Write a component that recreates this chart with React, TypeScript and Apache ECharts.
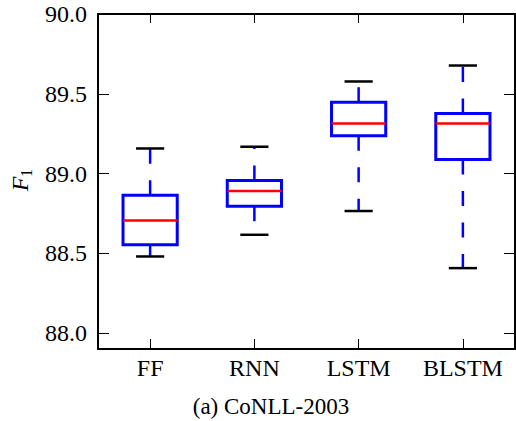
import React, { useEffect, useRef } from "react";
import * as echarts from "echarts";

const categories = ["FF", "RNN", "LSTM", "BLSTM"];
// [min, q1, median, q3, max]
const whiskerLow = [88.48, 88.616, 88.765, 88.407];
const q1Values = [88.553, 88.795, 89.237, 89.088];
const medianValues = [88.706, 88.891, 89.314, 89.314];
const q3Values = [88.864, 88.956, 89.447, 89.377];
const whiskerHigh = [89.157, 89.168, 89.577, 89.677];
const yTicks = [88.0, 88.5, 89.0, 89.5, 90.0];
const titleText = "(a) CoNLL-2003";

const FONT = "'Liberation Serif', 'Times New Roman', serif";

export default function App() {
  const ref = useRef<HTMLDivElement>(null);
  useEffect(() => {
    if (!ref.current) return;
    const chart = echarts.init(ref.current, undefined, { renderer: "svg" });
    const data = categories.map((_, i) => [
      i,
      whiskerLow[i],
      q1Values[i],
      medianValues[i],
      q3Values[i],
      whiskerHigh[i],
    ]);
    const yMin = 87.9;
    const yMax = 90.0;
    const axisLine = { show: true, lineStyle: { color: "#000", width: 2 } };
    const tickStyle = { color: "#000", width: 1 };
    chart.setOption({
      animation: false,
      grid: { left: 98, right: 1, top: 14, bottom: 72, show: false },
      xAxis: [
        {
          type: "category",
          data: categories,
          position: "bottom",
          boundaryGap: true,
          axisLine,
          axisTick: { show: true, inside: true, alignWithLabel: true, length: 10, lineStyle: tickStyle },
          axisLabel: { color: "#000", fontFamily: FONT, fontSize: 24, margin: 7 },
          splitLine: { show: false },
        },
        {
          type: "category",
          data: categories,
          position: "top",
          boundaryGap: true,
          axisLine,
          axisTick: { show: true, inside: true, alignWithLabel: true, length: 9, lineStyle: tickStyle },
          axisLabel: { show: false },
          splitLine: { show: false },
        },
      ],
      yAxis: [
        {
          type: "value",
          min: yMin,
          max: yMax,
          position: "left",
          axisLine,
          axisTick: { show: true, inside: true, length: 11, lineStyle: tickStyle, customValues: yTicks },
          axisLabel: {
            color: "#000",
            fontFamily: FONT,
            fontSize: 24,
            margin: 11,
            customValues: yTicks,
            formatter: (v: number) => v.toFixed(1),
          },
          splitLine: { show: false },
        },
        {
          type: "value",
          min: yMin,
          max: yMax,
          position: "right",
          axisLine,
          axisTick: { show: true, inside: true, length: 11, lineStyle: tickStyle, customValues: yTicks },
          axisLabel: { show: false, customValues: yTicks },
          splitLine: { show: false },
        },
      ],
      series: [
        {
          type: "custom",
          xAxisIndex: 0,
          yAxisIndex: 0,
          encode: { x: 0, y: [1, 2, 3, 4, 5] },
          data,
          renderItem: (params: any, api: any) => {
            const xi = api.value(0);
            const pMin = api.coord([xi, api.value(1)]);
            const pQ1 = api.coord([xi, api.value(2)]);
            const pMed = api.coord([xi, api.value(3)]);
            const pQ3 = api.coord([xi, api.value(4)]);
            const pMax = api.coord([xi, api.value(5)]);
            const band = api.size([1, 0])[0];
            const cx = pMed[0];
            const boxW = band * 0.52;
            const capW = band * 0.27;
            const blue = "#0000ff";
            const dash = [15, 16.5];
            return {
              type: "group",
              children: [
                {
                  type: "line",
                  shape: { x1: cx, y1: pQ3[1], x2: cx, y2: pMax[1] },
                  style: { stroke: blue, lineWidth: 2.5, lineDash: dash, fill: null },
                },
                {
                  type: "line",
                  shape: { x1: cx, y1: pQ1[1], x2: cx, y2: pMin[1] },
                  style: { stroke: blue, lineWidth: 2.5, lineDash: dash, fill: null },
                },
                {
                  type: "rect",
                  shape: { x: cx - boxW / 2, y: pQ3[1], width: boxW, height: pQ1[1] - pQ3[1] },
                  style: { stroke: blue, lineWidth: 3, fill: "none" },
                },
                {
                  type: "line",
                  shape: { x1: cx - boxW / 2, y1: pMed[1], x2: cx + boxW / 2, y2: pMed[1] },
                  style: { stroke: "#ff0000", lineWidth: 2.5 },
                },
                {
                  type: "line",
                  shape: { x1: cx - capW / 2, y1: pMax[1], x2: cx + capW / 2, y2: pMax[1] },
                  style: { stroke: "#000", lineWidth: 2.5 },
                },
                {
                  type: "line",
                  shape: { x1: cx - capW / 2, y1: pMin[1], x2: cx + capW / 2, y2: pMin[1] },
                  style: { stroke: "#000", lineWidth: 2.5 },
                },
              ],
            };
          },
        },
      ],
      graphic: [
        {
          type: "group",
          x: 20,
          y: 182,
          rotation: Math.PI / 2,
          children: [
            {
              type: "text",
              x: -2,
              y: 0,
              style: {
                text: "F",
                fontFamily: FONT,
                fontStyle: "italic",
                fontSize: 24,
                fill: "#000",
                align: "center",
                verticalAlign: "middle",
              },
            },
            {
              type: "text",
              x: 9,
              y: 6,
              style: {
                text: "1",
                fontFamily: FONT,
                fontSize: 16,
                fill: "#000",
                align: "center",
                verticalAlign: "middle",
              },
            },
          ],
        },
        {
          type: "text",
          x: 271,
          y: 406,
          style: {
            text: titleText,
            fontFamily: FONT,
            fontSize: 23,
            fill: "#000",
            align: "center",
            verticalAlign: "middle",
          },
        },
      ],
    });
    return () => chart.dispose();
  }, []);
  return (
    <div
      ref={ref}
      style={{ position: "fixed", left: 0, top: 0, width: 516, height: 421, background: "#fff" }}
    />
  );
}
